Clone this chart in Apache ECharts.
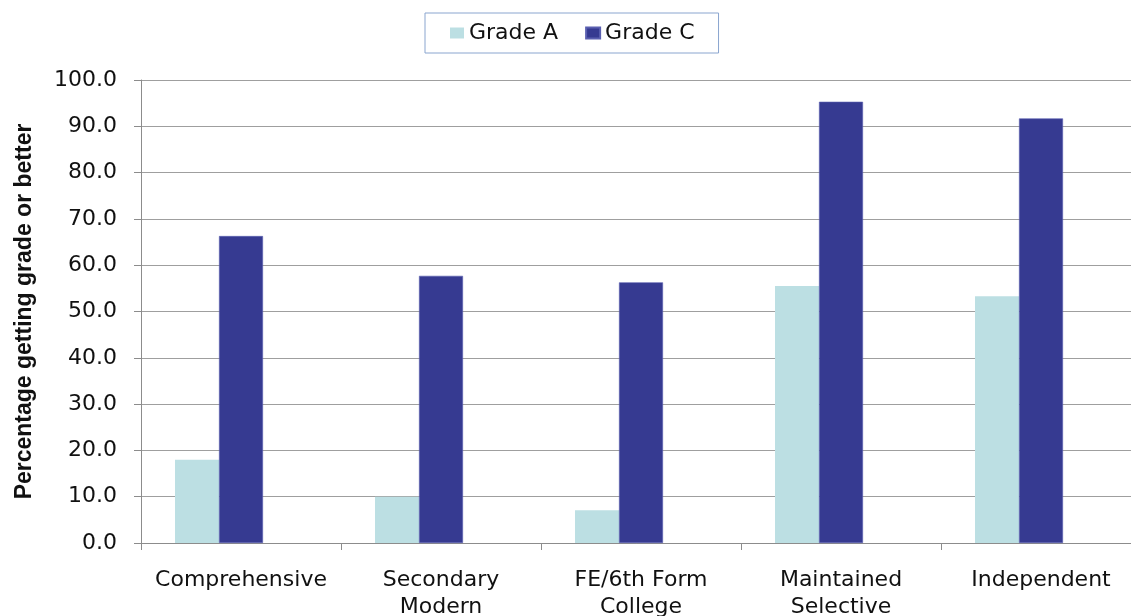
<!DOCTYPE html>
<html>
<head>
<meta charset="utf-8">
<script src="https://cdn.jsdelivr.net/npm/echarts@6/dist/echarts.min.js"></script>
<style>
html,body{margin:0;padding:0;background:#fff;}
#chart{width:1131px;height:616px;}
</style>
</head>
<body>
<div id="chart"></div>
<script>
const categories = ['Comprehensive', 'Secondary\nModern', 'FE/6th Form\nCollege', 'Maintained\nSelective', 'Independent'];
const gradeA = [18.0, 10.0, 7.1, 55.5, 53.3];
const gradeC = [66.3, 57.7, 56.3, 95.3, 91.7];
const hiddenSeries = [null, null, null, null, null];
const yTicks = { min: 0, max: 100, interval: 10 };
const yAxisTitle = 'Percentage getting grade or better';

const chart = echarts.init(document.getElementById('chart'), null, { renderer: 'canvas' });
chart.setOption({
  animation: false,
  backgroundColor: '#ffffff',
  legend: {
    data: ['Grade A', 'Grade C'],
    left: 425,
    top: 13,
    padding: [9, 24, 9, 25],
    itemGap: 27,
    itemWidth: 14,
    itemHeight: 11,
    borderColor: '#8aa5cf',
    borderWidth: 1,
    icon: 'rect',
    textStyle: { fontFamily: 'DejaVu Sans', fontSize: 22, color: '#111' }
  },
  grid: { left: 141, top: 80, width: 1000, height: 463, containLabel: false, outerBoundsMode: 'none' },
  xAxis: {
    type: 'category',
    data: categories,
    axisLine: { lineStyle: { color: '#8c8c8c', width: 1 } },
    axisTick: { show: true, length: 7, lineStyle: { color: '#8c8c8c' } },
    axisLabel: {
      margin: 24,
      fontFamily: 'DejaVu Sans',
      fontSize: 22,
      lineHeight: 27,
      color: '#111',
      interval: 0
    },
    splitLine: { show: false }
  },
  yAxis: {
    type: 'value',
    min: yTicks.min,
    max: yTicks.max,
    interval: yTicks.interval,
    name: yAxisTitle,
    nameLocation: 'middle',
    nameGap: 105,
    nameRotate: 90,
    nameTextStyle: { fontFamily: 'Liberation Sans', fontWeight: 'bold', fontSize: 23, color: '#111' },
    axisLine: { show: true, lineStyle: { color: '#8c8c8c', width: 1 } },
    axisTick: { show: true, length: 7, lineStyle: { color: '#8c8c8c' } },
    axisLabel: {
      margin: 24,
      fontFamily: 'DejaVu Sans',
      fontSize: 22,
      color: '#111',
      formatter: v => v.toFixed(1)
    },
    splitLine: { show: true, lineStyle: { color: '#9f9f9f', width: 1.2 } }
  },
  series: [
    {
      name: 'Grade A', type: 'bar', data: gradeA,
      barGap: '0%', barCategoryGap: '34%',
      itemStyle: { color: '#bcdfe3' }
    },
    {
      name: 'Grade C', type: 'bar', data: gradeC,
      barGap: '0%', barCategoryGap: '34%',
      itemStyle: { color: '#363a91', borderColor: '#5a5fb0', borderWidth: 0.6 }
    },
    {
      name: '', type: 'bar', data: hiddenSeries,
      barGap: '0%', barCategoryGap: '34%', silent: true,
      itemStyle: { color: 'transparent' }
    }
  ]
});
</script>
</body>
</html>
